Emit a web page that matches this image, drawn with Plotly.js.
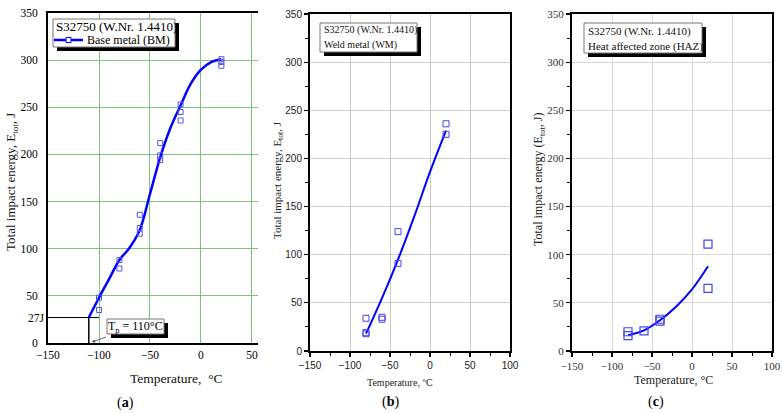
<!DOCTYPE html>
<html>
<head>
<meta charset="utf-8">
<script src="https://cdn.plot.ly/plotly-3.0.1.min.js"></script>
<style>html,body{margin:0;padding:0;background:#fff;}#chart{width:782px;height:413px;}</style>
</head>
<body>
<div id="chart"></div>
<script>
// ---------- Data ----------
// (a) Base metal (BM)
const bmTemp = [-100, -100, -80, -80, -60, -60, -60, -40, -40, -40, -20, -20, -20, 20, 20, 20];
const bmEnergy = [48, 35, 88, 79, 136, 122, 116, 212, 199, 194, 253, 245, 236, 301, 298, 294];
const bmFitTemp = [-110, -100, -90, -80, -70, -60, -50, -40, -30, -20, -10, 0, 10, 20];
const bmFitEnergy = [27, 48, 68, 88, 101, 120, 158, 197, 228, 252, 275, 290, 298, 301];
const tpTemp = -110;      // transition temperature
const refEnergy = 27;     // 27 J criterion
const refLineTemp = [-150, -100];

// (b) Weld metal (WM)
const wmTemp = [-80, -80, -80, -60, -60, -40, -40, 20, 20];
const wmEnergy = [34, 19, 18, 35, 33, 124, 91, 236, 225];
const wmFitTemp = [-80, -60, -40, -20, 0, 20];
const wmFitEnergy = [18, 55, 95, 139, 186, 229];

// (c) Heat affected zone (HAZ)
const hazTemp = [-80, -80, -60, -40, -40, 20, 20];
const hazEnergy = [20, 16, 21, 33, 31, 111, 65];
const hazFitTemp = [-80, -60, -40, -20, 0, 20];
const hazFitEnergy = [16.5, 21.5, 32, 46, 64, 88];

const yTicks = [0, 50, 100, 150, 200, 250, 300, 350];
const xTicksA = [-150, -100, -50, 0, 50];

// ---------- Layout helpers ----------
const W = 782, H = 413;
const px = v => v / W;
const py = v => 1 - v / H;
const SERIF = 'Liberation Serif, Times New Roman, serif';
const SANS = 'Liberation Sans, Arial, sans-serif';
const GREEN = '#7cc47c';

const traces = [
  // (a)
  {x: refLineTemp, y: [refEnergy, refEnergy], mode: 'lines', line: {color: 'black', width: 1}, showlegend: false, xaxis: 'x', yaxis: 'y', hoverinfo: 'skip'},
  {x: [tpTemp, tpTemp], y: [refEnergy, 0], mode: 'lines', line: {color: 'black', width: 1.5}, showlegend: false, xaxis: 'x', yaxis: 'y', hoverinfo: 'skip'},
  {x: bmFitTemp, y: bmFitEnergy, mode: 'lines', line: {color: '#0000ff', width: 2.5, shape: 'spline', smoothing: 1}, showlegend: false, xaxis: 'x', yaxis: 'y'},
  {x: bmTemp, y: bmEnergy, mode: 'markers', marker: {symbol: 'square-open', size: 5, color: '#5555ee', line: {width: 1}}, showlegend: false, xaxis: 'x', yaxis: 'y'},
  // (b)
  {x: wmFitTemp, y: wmFitEnergy, mode: 'lines', line: {color: '#0000ff', width: 2, shape: 'spline', smoothing: 1}, showlegend: false, xaxis: 'x2', yaxis: 'y2'},
  {x: wmTemp, y: wmEnergy, mode: 'markers', marker: {symbol: 'square-open', size: 6, color: '#4444ee', line: {width: 1}}, showlegend: false, xaxis: 'x2', yaxis: 'y2'},
  // (c)
  {x: hazFitTemp, y: hazFitEnergy, mode: 'lines', line: {color: '#0000ff', width: 2, shape: 'spline', smoothing: 1}, showlegend: false, xaxis: 'x3', yaxis: 'y3'},
  {x: hazTemp, y: hazEnergy, mode: 'markers', marker: {symbol: 'square-open', size: 8, color: '#4444ee', line: {width: 1.2}}, showlegend: false, xaxis: 'x3', yaxis: 'y3'}
];

const boxedAxis = (domain, range, font, grid) => ({
  domain: domain, range: range, dtick: 50, tick0: 0,
  showline: true, linecolor: 'black', linewidth: 2, mirror: true,
  ticks: 'outside', ticklen: 4, tickwidth: 1.2, tickcolor: 'black',
  minor: {dtick: 25, ticks: 'outside', ticklen: 3, tickwidth: 1, tickcolor: 'black', showgrid: false},
  showgrid: true, gridcolor: grid, gridwidth: 1, zeroline: false,
  tickfont: font, fixedrange: true
});

// box with drop shadow, given in pixel coords (left, top, right, bottom)
const shadowBox = (l, t, r, b, off) => [
  {type: 'rect', xref: 'paper', yref: 'paper', x0: px(l + off), x1: px(r + off), y0: py(b + off), y1: py(t + off), fillcolor: 'black', line: {width: 0}, layer: 'above'},
  {type: 'rect', xref: 'paper', yref: 'paper', x0: px(l), x1: px(r), y0: py(b), y1: py(t), fillcolor: 'white', line: {color: '#777', width: 1}, layer: 'above'}
];

const layout = {
  width: W, height: H,
  margin: {l: 0, r: 0, t: 0, b: 0},
  paper_bgcolor: 'white', plot_bgcolor: 'white',
  showlegend: false,
  xaxis: {
    domain: [px(48), px(258)], range: [-150, 55.9], anchor: 'y',
    tickvals: xTicksA, showgrid: true, gridcolor: GREEN, gridwidth: 1,
    showline: true, linecolor: 'black', linewidth: 2, mirror: true,
    ticks: '', zeroline: false, tickfont: {family: SERIF, size: 11.5, color: 'black'}, fixedrange: true
  },
  yaxis: {
    domain: [1 - 343 / H, 1 - 13 / H], range: [0, 350], anchor: 'x',
    tickvals: yTicks, showgrid: true, gridcolor: GREEN, gridwidth: 1,
    showline: true, linecolor: 'black', linewidth: 2,
    ticks: '', zeroline: false, ticklabelstandoff: 6, tickfont: {family: SERIF, size: 11.5, color: 'black'}, fixedrange: true
  },
  xaxis2: Object.assign(boxedAxis([px(310), px(510)], [-150, 100], {family: SANS, size: 10, color: '#222'}, '#cccccc'), {anchor: 'y2'}),
  yaxis2: Object.assign(boxedAxis([1 - 351 / H, 1 - 14 / H], [0, 350], {family: SANS, size: 10, color: '#222'}, '#cccccc'), {anchor: 'x2'}),
  xaxis3: Object.assign(boxedAxis([px(572), px(772)], [-150, 100], {family: SERIF, size: 11, color: '#333'}, '#d6d6d6'), {anchor: 'y3'}),
  yaxis3: Object.assign(boxedAxis([1 - 351 / H, 1 - 14 / H], [0, 350], {family: SERIF, size: 11, color: '#333'}, '#d6d6d6'), {anchor: 'x3'}),
  shapes: [].concat(
    shadowBox(53, 19, 175, 47, 4),     // (a) legend
    [
      {type: 'line', xref: 'paper', yref: 'paper', x0: px(54), x1: px(83), y0: py(40), y1: py(40), line: {color: '#0000ff', width: 2.5}, layer: 'above'},
      {type: 'rect', xref: 'paper', yref: 'paper', x0: px(66), x1: px(71), y0: py(42.5), y1: py(37.5), fillcolor: 'white', line: {color: '#0000ff', width: 1}, layer: 'above'}
    ],
    shadowBox(107, 319, 164, 334, 4),  // (a) Tp box
    shadowBox(320, 23, 417, 52, 4),    // (b) info box
    shadowBox(584, 23, 702, 53, 4)     // (c) info box
  ),
  annotations: []
};

const ann = layout.annotations;
const A = (o) => ann.push(Object.assign({showarrow: false, xanchor: 'center', yanchor: 'middle', xref: 'paper', yref: 'paper'}, o));

// (a) legend text
A({x: px(54), y: py(26.5), xanchor: 'left', text: 'S32750 (W.Nr. 1.4410)', font: {family: SERIF, size: 13, color: 'black'}});
A({x: px(85), y: py(40), xanchor: 'left', text: 'Base metal (BM)', font: {family: SERIF, size: 12, color: 'black'}});
// (a) 27J label
A({yref: 'y', x: px(47), y: refEnergy, xanchor: 'right', text: '27J', font: {family: SERIF, size: 11.5, color: 'black'}});
// (a) Tp label with arrow to the transition temperature
ann.push({xref: 'x', yref: 'y', x: -107, y: 1, axref: 'x', ayref: 'y', ax: -64.2, ay: 17.5,
  text: 'T<sub>p</sub> = 110°C', showarrow: true, arrowhead: 2, arrowsize: 0.8, arrowwidth: 0.8, arrowcolor: '#444',
  startstandoff: 3, font: {family: SERIF, size: 12, color: 'black'}});

// (b) info box text
A({x: px(321.5), y: py(30), xanchor: 'left', text: 'S32750 (W.Nr. 1.4410)', font: {family: SERIF, size: 10, color: '#111'}});
A({x: px(321.5), y: py(45), xanchor: 'left', text: 'Weld metal (WM)', font: {family: SERIF, size: 10, color: '#111'}});
// (c) info box text
A({x: px(585.5), y: py(31), xanchor: 'left', text: 'S32750 (W.Nr. 1.4410)', font: {family: SERIF, size: 11, color: '#111'}});
A({x: px(585.5), y: py(46), xanchor: 'left', text: 'Heat affected zone (HAZ)', font: {family: SERIF, size: 11, color: '#111'}});

// Axis titles and captions
A({x: px(12), y: py(182), textangle: -90, text: 'Total impact energy, E<sub>tot</sub>, J', font: {family: SERIF, size: 13, color: '#111'}});
A({x: px(176), y: py(378), text: 'Temperature,&nbsp; °C', font: {family: SERIF, size: 13.5, color: '#111'}});
A({x: px(125), y: py(403), text: '(<b>a</b>)', font: {family: SERIF, size: 14, color: 'black'}});

A({x: px(278), y: py(180), textangle: -90, text: 'Total impact energy, E<sub>tot</sub>, J', font: {family: SERIF, size: 11, color: '#222'}});
A({x: px(400), y: py(382), text: 'Temperature, <sup>o</sup>C', font: {family: SERIF, size: 10, color: '#222'}});
A({x: px(390), y: py(402), text: '(<b>b</b>)', font: {family: SERIF, size: 14, color: 'black'}});

A({x: px(539), y: py(180), textangle: -90, text: 'Total impact energy (E<sub>tot</sub>, J)', font: {family: SERIF, size: 12, color: '#222'}});
A({x: px(673), y: py(380), text: 'Temperature, °C', font: {family: SERIF, size: 12, color: '#222'}});
A({x: px(656), y: py(402), text: '(<b>c</b>)', font: {family: SERIF, size: 14, color: 'black'}});

Plotly.newPlot('chart', traces, layout, {staticPlot: true, displayModeBar: false});
</script>
</body>
</html>
